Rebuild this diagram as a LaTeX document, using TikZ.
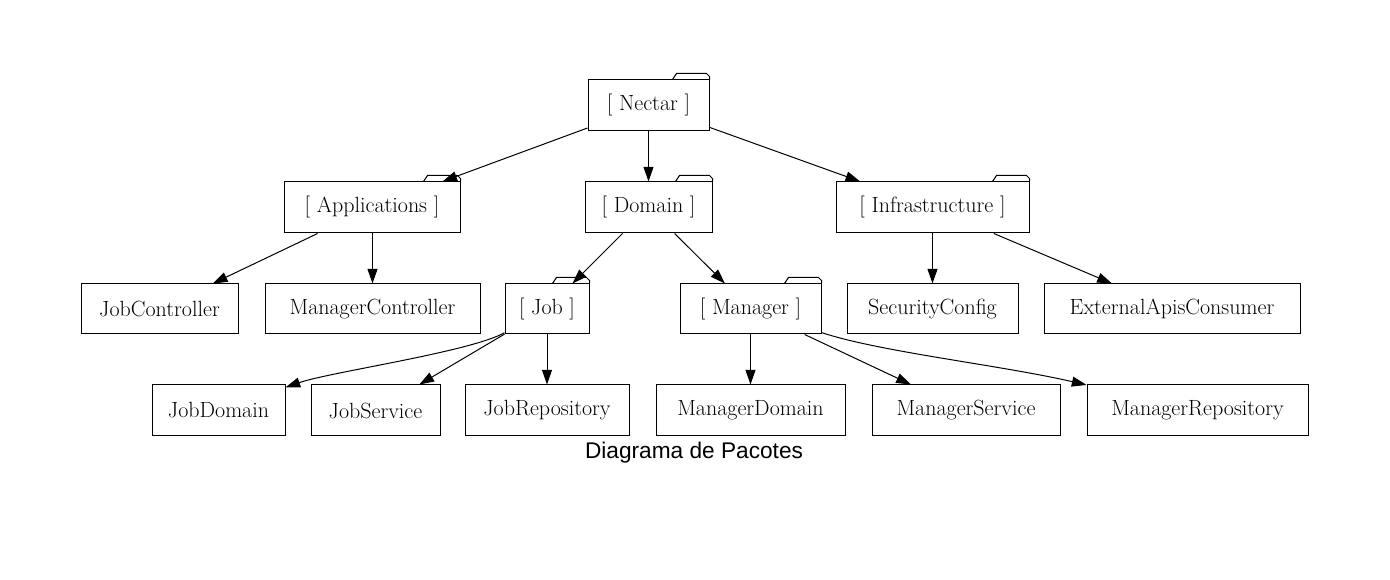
\documentclass[tikz,border=0pt]{standalone}
\usepackage{fontspec}
\newfontfamily\captionfont{Liberation Sans}
\usepackage{tikz}
\usetikzlibrary{arrows.meta, positioning, calc}

\tikzset{
    box/.style={draw, line width=0.75pt, inner sep=0pt, minimum height={51*0.75pt},
        font=\fontsize{16.5}{20}\selectfont},
    wd/.style={minimum width={#1*0.75pt}},
    pkg/.style={box, append after command={\pgfextra{\let\pkgnode\tikzlastnode
        \draw[line width=0.75pt] (\pkgnode.north east) -- ([shift={(0,-3)}]\pkgnode.north east)
        -- ([shift={(-3,-6)}]\pkgnode.north east) -- ([shift={(-33,-6)}]\pkgnode.north east)
        -- ([shift={(-37,0)}]\pkgnode.north east);}}},
    dep/.style={-{Triangle[length=11pt,width=7.5pt]}, line width=0.75pt},
}

\begin{document}
\begin{tikzpicture}[x=0.75pt, y=-0.75pt]
        \useasboundingbox (0,0) rectangle (1390,580);

        \node[pkg, wd=121] (nectar) at (648.5,105.5) {[ Nectar ]};

        \node[pkg, wd=176] (apps) at (372,207.5) {[ Applications ]};
        \node[pkg, wd=127] (domain) at (648.5,207.5) {[ Domain ]};
        \node[pkg, wd=193] (infra) at (932.5,207.5) {[ Infrastructure ]};

        \node[box, wd=157, minimum height={50*0.75pt}] (jobctrl) at (159.5,309) {JobController};
        \node[box, wd=215, minimum height={50*0.75pt}] (mgrctrl) at (372.5,309) {ManagerController};
        \node[pkg, wd=84, minimum height={50*0.75pt}] (job) at (547,309) {[ Job ]};
        \node[pkg, wd=141, minimum height={50*0.75pt}] (manager) at (750.5,309) {[ Manager ]};
        \node[box, wd=171, minimum height={50*0.75pt}] (secconf) at (932.5,309) {SecurityConfig};
        \node[box, wd=256, minimum height={50*0.75pt}] (extapi) at (1172,309) {ExternalApisConsumer};

        \node[box, wd=133] (jobdom) at (218.5,410.5) {JobDomain};
        \node[box, wd=129] (jobsrv) at (375.5,410.5) {JobService};
        \node[box, wd=164] (jobrepo) at (547,410.5) {JobRepository};
        \node[box, wd=189] (mgrdom) at (750.5,410.5) {ManagerDomain};
        \node[box, wd=188] (mgrsrv) at (966,410.5) {ManagerService};
        \node[box, wd=221] (mgrrepo) at (1197.5,410.5) {ManagerRepository};

        \node[anchor=base, font=\captionfont\fontsize{17}{20}\selectfont] (caption) at (694,459) {Diagrama de Pacotes};

        \draw[dep] (nectar) -- (apps);
        \draw[dep] (nectar) -- (domain);
        \draw[dep] (nectar) -- (infra);

        \draw[dep] (apps) -- (jobctrl);
        \draw[dep] (apps.south-|mgrctrl) -- (mgrctrl);
        \draw[dep] (domain) -- (job);
        \draw[dep] (domain) -- (manager);
        \draw[dep] (infra) -- (secconf);
        \draw[dep] (infra) -- (extapi);

        \draw[dep] (job) .. controls (470,352) and (330,372) .. (jobdom);
        \draw[dep] (job) -- (jobsrv);
        \draw[dep] (job) -- (jobrepo);
        \draw[dep] (manager) -- (mgrdom);
        \draw[dep] (manager) -- (mgrsrv);
        \draw[dep] (manager) .. controls (880,352) and (1000,365) .. (mgrrepo);
    \end{tikzpicture}
\end{document}
